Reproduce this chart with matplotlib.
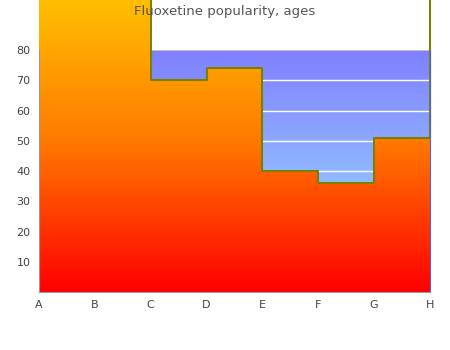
import numpy as np
import matplotlib.pyplot as plt
from matplotlib.colors import LinearSegmentedColormap

# Дані
labels = ['A', 'B', 'C', 'D', 'E', 'F', 'G', 'H']
values = [100, 100, 70, 74, 40, 36, 51, 100]
yticks = [10, 20, 30, 40, 50, 60, 70, 80]

x = np.arange(len(labels))

fig = plt.figure(figsize=(4.5, 3.5), dpi=100)
ax = fig.add_axes([0.0867, 0.1657, 0.8689, 0.6914])

# фон області графіка (градієнт синій)
bg_cmap = LinearSegmentedColormap.from_list('bg', ['#a0eaff', '#8080ff'])
grad = np.linspace(0, 1, 256).reshape(-1, 1)
ax.imshow(grad, cmap=bg_cmap, extent=[0, 7, 0, 80], origin='lower',
          aspect='auto', zorder=0)

# сітка
for yv in yticks[:-1]:
    ax.axhline(yv, color='white', lw=1, zorder=1)
ax.axhline(80, color='#cccccc', lw=1.2, zorder=1)

# заливка під сходинками (градієнт червоний -> жовтий)
poly = ax.fill_between(x, values, step='post', facecolor='none',
                       edgecolor='none', clip_on=False)
fill_cmap = LinearSegmentedColormap.from_list('fill', ['#ff0000', '#ff7a00', '#ffc400'])
img = ax.imshow(grad, cmap=fill_cmap, extent=[-0.02, 7, 0, 100], origin='lower',
                aspect='auto', zorder=2)
img.set_clip_box(fig.bbox)
img.set_clip_path(poly.get_paths()[0], transform=ax.transData)

ax.step(x, values, where='post', color='#7a8000', lw=1.5, zorder=3, clip_on=False)

ax.set_xlim(0, 7)
ax.set_ylim(0, 80)
ax.set_xticks(x)
ax.set_xticklabels(labels)
ax.set_yticks(yticks)
ax.tick_params(length=0, labelsize=8, labelcolor='#444444', pad=6)

for s in ['top']:
    ax.spines[s].set_visible(False)
ax.spines['left'].set_color('#999999')
ax.spines['bottom'].set_color('#999999')
ax.spines['right'].set_color('#4466ee')
for s in ax.spines.values():
    s.set_zorder(4)

fig.text(0.5, 0.966, 'Fluoxetine popularity, ages', ha='center', va='center',
         fontsize=9.5, color='#555555', zorder=10)

fig.savefig('out.png', dpi=100)
